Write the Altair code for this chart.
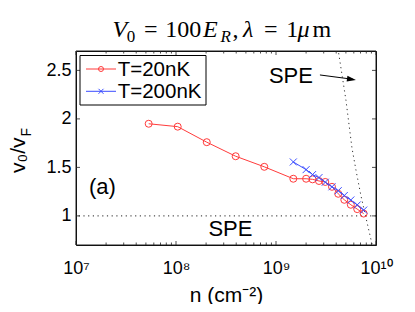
import altair as alt
import pandas as pd

# ---------------- data ----------------
series = ["T=20nK", "T=200nK"]
colors = ["#ff3b3b", "#3b4dff"]
marker_shapes = ["circle", "M-1,-1L1,1M-1,1L1,-1"]

n_20 = [5.33e7, 1.04e8, 2.03e8, 3.95e8, 7.64e8, 1.49e9, 2.0e9, 2.32e9,
        2.69e9, 3.11e9, 3.63e9, 4.19e9, 4.82e9, 5.60e9, 6.49e9, 7.53e9]
v_20 = [1.95, 1.92, 1.76, 1.615, 1.506, 1.383, 1.383, 1.377,
        1.36, 1.35, 1.30, 1.228, 1.166, 1.115, 1.07, 1.024]

n_200 = [1.49e9, 2.0e9, 2.32e9, 2.69e9, 3.11e9, 3.63e9, 4.19e9, 4.82e9,
         5.60e9, 6.49e9, 7.53e9]
v_200 = [1.556, 1.477, 1.426, 1.395, 1.347, 1.30, 1.26, 1.21,
         1.164, 1.113, 1.06]

spe_n = [4.2e9, 5.01e9, 5.75e9, 6.31e9, 7.08e9, 7.94e9, 9.12e9]
spe_v = [2.70, 2.19, 1.70, 1.47, 1.205, 0.98, 0.71]

x_domain = [1e7, 1e10]
y_domain = [0.7, 2.7]
x_ticks = [1e7, 1e8, 1e9, 1e10]
x_tick_labels = ["10⁷", "10⁸", "10⁹", "10¹⁰"]
x_minor = [k * 10 ** d for d in (7, 8, 9) for k in range(2, 10)]
y_ticks = [1.0, 1.5, 2.0, 2.5]

annotations = pd.DataFrame({
    "n": [1.41e9, 3.5e8, 1.84e7],
    "v": [2.446, 0.867, 1.297],
    "t": ["SPE", "SPE", "(a)"],
})
arrow_n = [2.75e9, 5.9e9]
arrow_v = [2.453, 2.408]
arrow_tip_n = [6.3e9]
arrow_tip_v = [2.402]

# title pieces: (text, font size, italic, x offset in plot px, baseline in plot px)
title_parts = [
    ("V", 24, True, 36.6, -14), ("0", 17, False, 50.8, -9.5), ("=", 24, False, 68, -14),
    ("100", 24, False, 89.3, -14), ("E", 24, True, 127, -14), ("R", 17, True, 144.6, -9.5),
    (",", 24, False, 156.5, -14), ("λ", 24, True, 167, -14), ("=", 24, False, 188, -14),
    ("1", 24, False, 210.2, -14), ("μ", 24, True, 221.5, -14), ("m", 24, False, 236.5, -14),
]

W, H = 300, 194
FONT = "Liberation Sans"
SERIF = "Liberation Serif"

# ---------------- frames ----------------
df = pd.DataFrame({
    "n": n_20 + n_200,
    "v": v_20 + v_200,
    "T": [series[0]] * len(n_20) + [series[1]] * len(n_200),
})
spe = pd.DataFrame({"n": spe_n, "v": spe_v})
one = pd.DataFrame({"k": [0]})

xs = alt.Scale(type="log", domain=x_domain, nice=False)
ys = alt.Scale(domain=y_domain, zero=False, nice=False)
color = alt.Color("T:N", scale=alt.Scale(domain=series, range=colors), legend=None)

X = alt.X("n:Q", scale=xs, title="n (cm⁻²)",
          axis=alt.Axis(values=x_ticks, ticks=False, domain=False, grid=False, labelFlush=False,
                        labelExpr=f"{x_tick_labels}[round(log(datum.value)/LN10) - 7]",
                        labelFont=FONT, labelFontSize=18, labelColor="black",
                        labelBaseline="alphabetic", labelPadding=28,
                        titleFont=FONT, titleFontSize=21, titleFontWeight="normal",
                        titleColor="black", titleBaseline="alphabetic", titleY=56))
Y = alt.Y("v:Q", scale=ys, title=None,
          axis=alt.Axis(values=y_ticks, ticks=False, domain=False, grid=False,
                        format="~g", labelFont=FONT, labelFontSize=18,
                        labelColor="black", labelPadding=5))

lines = alt.Chart(df).mark_line(strokeWidth=1).encode(
    x=X, y=Y, color=color, order="n:Q", detail="T:N")
points = alt.Chart(df).mark_point(filled=False, size=49, strokeWidth=1, opacity=1).encode(
    x=X, y=Y, color=color,
    shape=alt.Shape("T:N", scale=alt.Scale(domain=series, range=marker_shapes), legend=None))

hline = alt.Chart(pd.DataFrame({"v": [1.0]})).mark_rule(
    color="#222", strokeDash=[1.2, 3.5], strokeWidth=1).encode(y=Y)
spe_line = alt.Chart(spe).mark_line(color="#333", strokeDash=[1.2, 3.5], strokeWidth=1, clip=True).encode(
    x=X, y=Y, order="v:Q")

texts = alt.Chart(annotations).mark_text(font=FONT, fontSize=22, color="black",
                                          baseline="middle", align="center").encode(
    x=X, y=Y, text="t:N")

arrow = alt.Chart(pd.DataFrame({"n": arrow_n, "v": arrow_v})).mark_line(
    color="black", strokeWidth=1).encode(x=X, y=Y)
arrow_head = alt.Chart(pd.DataFrame({"n": arrow_tip_n, "v": arrow_tip_v})).mark_point(
    shape="M0,0L-1,-0.32L-1,0.32Z", size=324, angle=8, filled=True,
    color="black", opacity=1).encode(x=X, y=Y)

# inner ticks
xt_major = pd.DataFrame({"n": x_ticks})
xt_minor = pd.DataFrame({"n": x_minor})
yt = pd.DataFrame({"v": y_ticks})
tick_style = dict(color="#222", strokeWidth=0.8)
ticks = [
    alt.Chart(xt_major).mark_rule(**tick_style).encode(x=X, y=alt.value(H), y2=alt.value(H - 4)),
    alt.Chart(xt_major).mark_rule(**tick_style).encode(x=X, y=alt.value(0), y2=alt.value(4)),
    alt.Chart(xt_minor).mark_rule(**tick_style).encode(x=X, y=alt.value(H), y2=alt.value(H - 2.5)),
    alt.Chart(xt_minor).mark_rule(**tick_style).encode(x=X, y=alt.value(0), y2=alt.value(2.5)),
    alt.Chart(yt).mark_rule(**tick_style).encode(y=Y, x=alt.value(0), x2=alt.value(4)),
    alt.Chart(yt).mark_rule(**tick_style).encode(y=Y, x=alt.value(W), x2=alt.value(W - 4)),
]


def box(x0, x1, y0, y1, col="black"):
    st = dict(color=col, strokeWidth=1)
    return [
        alt.Chart(one).mark_rule(**st).encode(x=alt.value(x0), x2=alt.value(x1), y=alt.value(y0)),
        alt.Chart(one).mark_rule(**st).encode(x=alt.value(x0), x2=alt.value(x1), y=alt.value(y1)),
        alt.Chart(one).mark_rule(**st).encode(x=alt.value(x0), y=alt.value(y0), y2=alt.value(y1)),
        alt.Chart(one).mark_rule(**st).encode(x=alt.value(x1), y=alt.value(y0), y2=alt.value(y1)),
    ]


frame = box(0, W, 0, H, "#222")

# legend (boxed key in the top-left corner)
leg_layers = box(4, 130, 4.5, 54)
for i, (lab, col, shp) in enumerate(zip(series, colors, marker_shapes)):
    yy = 18 + 22.3 * i
    leg_layers.append(alt.Chart(one).mark_rule(color=col, strokeWidth=1).encode(
        x=alt.value(10), x2=alt.value(40), y=alt.value(yy)))
    leg_layers.append(alt.Chart(one).mark_point(color=col, shape=shp, size=25, filled=False,
                                                strokeWidth=1, opacity=1).encode(
        x=alt.value(25), y=alt.value(yy)))
    leg_layers.append(alt.Chart(pd.DataFrame({"t": [lab]})).mark_text(
        font=FONT, fontSize=20.5, align="left", baseline="middle", color="black").encode(
        text="t:N", x=alt.value(41.7), y=alt.value(yy + 1)))

# y-axis title  v0/vF (F subscript)
ytitle_main = alt.Chart(pd.DataFrame({"t": ["v₀/v"]})).mark_text(
    font=FONT, fontSize=21, angle=270, align="left", baseline="alphabetic", color="black").encode(
    text="t:N", x=alt.value(-51), y=alt.value(122))
ytitle_sub = alt.Chart(pd.DataFrame({"t": ["F"]})).mark_text(
    font=FONT, fontSize=14, angle=270, align="left", baseline="alphabetic", color="black").encode(
    text="t:N", x=alt.value(-45), y=alt.value(85.5))

# main title  V0 = 100E_R, lambda = 1 mu m  (LaTeX-like, piece by piece)
title_layers = []
for txt, fs, it, px, py in title_parts:
    title_layers.append(alt.Chart(pd.DataFrame({"t": [txt]})).mark_text(
        font=SERIF, fontSize=fs, fontStyle="italic" if it else "normal",
        align="left", baseline="alphabetic", color="black").encode(
        text="t:N", x=alt.value(px), y=alt.value(py)))

chart = alt.layer(
    hline, spe_line, lines, points, texts, arrow, arrow_head, *ticks, *frame, *leg_layers,
    ytitle_main, ytitle_sub, *title_layers,
).properties(
    width=W, height=H,
    autosize=alt.AutoSizeParams(type="none"),
    padding={"left": 68, "top": 43, "right": 31, "bottom": 59},
).configure_view(stroke="black", strokeWidth=1)

chart.save("out.html", embed_options={"renderer": "svg", "actions": False})
